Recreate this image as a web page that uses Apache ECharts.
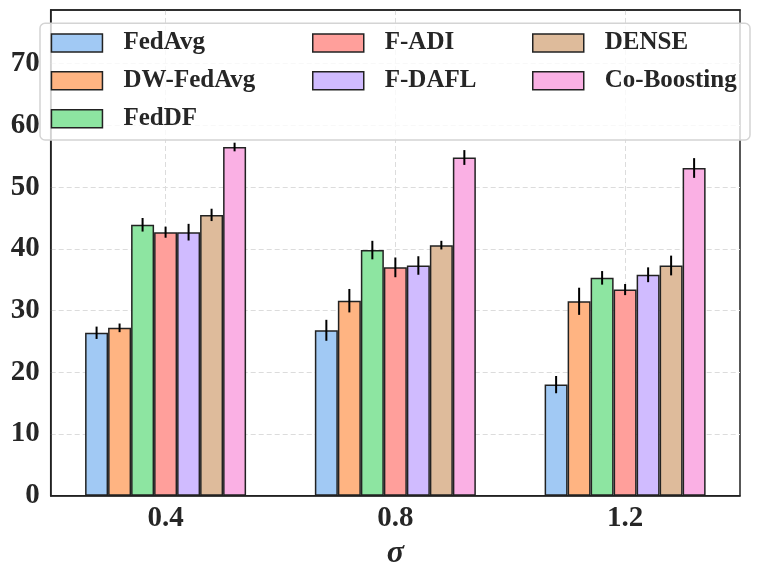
<!DOCTYPE html>
<html>
<head>
<meta charset="utf-8">
<script src="https://cdn.jsdelivr.net/npm/echarts@6/dist/echarts.min.js"></script>
<style>html,body{margin:0;padding:0;background:#fff;}#c{width:761px;height:576px;}</style>
</head>
<body>
<div id="c"></div>
<script>
const categories = ['0.4', '0.8', '1.2'];
const methods = ['FedAvg', 'DW-FedAvg', 'FedDF', 'F-ADI', 'F-DAFL', 'DENSE', 'Co-Boosting'];
const colors = ['#a1c9f4', '#ffb482', '#8de5a1', '#ff9f9b', '#d0bbff', '#debb9b', '#fab0e4'];

const fedAvg = [26.4, 26.8, 18.0];
const dwFedAvg = [27.2, 31.6, 31.5];
const fedDF = [43.9, 39.8, 35.3];
const fADI = [42.7, 37.0, 33.4];
const fDAFL = [42.7, 37.3, 35.8];
const dense = [45.5, 40.6, 37.3];
const coBoosting = [56.5, 54.8, 53.1];

const fedAvgErr = [1.0, 1.7, 1.4];
const dwFedAvgErr = [0.7, 1.9, 2.2];
const fedDFErr = [1.1, 1.5, 1.1];
const fADIErr = [0.9, 1.6, 0.9];
const fDAFLErr = [1.35, 1.5, 1.2];
const denseErr = [1.0, 0.7, 1.6];
const coBoostingErr = [0.7, 1.2, 1.6];

const yTicks = [0, 10, 20, 30, 40, 50, 60, 70];

const values = [fedAvg, dwFedAvg, fedDF, fADI, fDAFL, dense, coBoosting];
const errors = [fedAvgErr, dwFedAvgErr, fedDFErr, fADIErr, fDAFLErr, denseErr, coBoostingErr];

const BAR_W = 23;
const FONT = "'Liberation Serif', 'Times New Roman', serif";
const TXT = '#262626';

const series = [];
methods.forEach((m, i) => {
  series.push({
    name: m,
    type: 'bar',
    data: values[i],
    barWidth: BAR_W,
    barGap: '0%',
    z: 2,
    itemStyle: { color: colors[i], borderColor: '#222', borderWidth: 1.5 },
    emphasis: { disabled: true },
    animation: false
  });
});
methods.forEach((m, i) => {
  series.push({
    type: 'custom',
    z: 5,
    animation: false,
    silent: true,
    data: values[i].map((v, k) => [k, v, errors[i][k]]),
    renderItem: function (params, api) {
      const k = api.value(0), v = api.value(1), e = api.value(2);
      const off = (i - 3) * BAR_W;
      const p1 = api.coord([k, v - e]);
      const p2 = api.coord([k, v + e]);
      return {
        type: 'line',
        shape: { x1: p1[0] + off, y1: p1[1], x2: p2[0] + off, y2: p2[1] },
        style: { stroke: '#000', lineWidth: 2 }
      };
    }
  });
});

function legendCol(names, left) {
  return {
    data: names,
    orient: 'vertical',
    left: left,
    top: 30.4,
    padding: 0,
    itemWidth: 51,
    itemHeight: 18,
    itemGap: 12.9,
    icon: 'rect',
    selectedMode: false,
    z: 100,
    itemStyle: { borderColor: '#222', borderWidth: 1.5 },
    textStyle: { fontFamily: FONT, fontWeight: 'bold', fontSize: 25, color: TXT, lineHeight: 18, padding: [0, 0, 0, 16] }
  };
}

const option = {
  backgroundColor: '#fff',
  animation: false,
  grid: {
    left: 50.7, right: 21, top: 10, bottom: 80.3,
    show: true, borderColor: '#222', borderWidth: 1.5, backgroundColor: 'transparent'
  },
  graphic: {
    elements: [{
      type: 'rect',
      z: 90,
      silent: true,
      shape: { x: 40, y: 23.3, width: 710, height: 116.7, r: 5 },
      style: { fill: 'rgba(255,255,255,0.8)', stroke: '#d4d4d4', lineWidth: 1.5 }
    }]
  },
  legend: [
    legendCol(methods.slice(0, 3), 50.7),
    legendCol(methods.slice(3, 5), 312),
    legendCol(methods.slice(5, 7), 532)
  ],
  xAxis: [{
    type: 'category',
    data: categories,
    boundaryGap: true,
    name: 'σ',
    nameLocation: 'middle',
    nameGap: 40,
    nameTextStyle: { fontFamily: FONT, fontWeight: 'bold', fontStyle: 'italic', fontSize: 32, color: TXT },
    axisLine: { show: true, lineStyle: { color: '#222', width: 1.5 } },
    axisTick: { show: false },
    axisLabel: { fontFamily: FONT, fontWeight: 'bold', fontSize: 29, color: TXT, margin: 8 },
    splitLine: { show: true, alignWithLabel: true, lineStyle: { color: '#dcdcdc', type: [5, 3], width: 1 } }
  }, {
    type: 'category',
    data: categories,
    position: 'top',
    axisLine: { show: true, onZero: false, lineStyle: { color: '#222', width: 1.5 } },
    axisTick: { show: false },
    axisLabel: { show: false },
    splitLine: { show: false }
  }],
  yAxis: {
    type: 'value',
    min: 0,
    max: 78.7,
    interval: 10,
    axisLine: { show: true, lineStyle: { color: '#222', width: 1.5 } },
    axisTick: { show: false },
    axisLabel: {
      fontFamily: FONT, fontWeight: 'bold', fontSize: 29, color: TXT, margin: 11,
      showMaxLabel: false,
      formatter: function (v) { return yTicks.indexOf(v) >= 0 ? String(v) : ''; }
    },
    splitLine: { show: true, showMinLine: false, showMaxLine: false, lineStyle: { color: '#dcdcdc', type: [5, 3], width: 1 } }
  },
  series: series
};

const chart = echarts.init(document.getElementById('c'), null, { renderer: 'canvas' });
chart.setOption(option);
</script>
</body>
</html>
